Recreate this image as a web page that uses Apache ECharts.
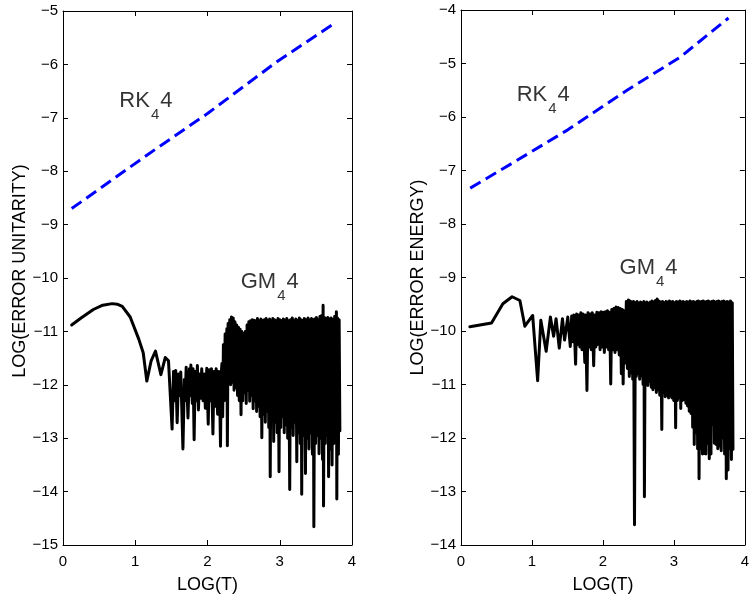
<!DOCTYPE html>
<html><head><meta charset="utf-8">
<script src="https://cdn.jsdelivr.net/npm/echarts@6/dist/echarts.min.js"></script>
<style>html,body{margin:0;padding:0;background:#fff}#c{width:752px;height:599px}</style>
</head><body><div id="c"></div>
<script>
// ---------- data ----------
const xTicks = [0, 1, 2, 3, 4];
const yTicksUnit = [-15, -14, -13, -12, -11, -10, -9, -8, -7, -6, -5];
const yTicksEnergy = [-14, -13, -12, -11, -10, -9, -8, -7, -6, -5, -4];

const rkUnitT   = [0.12, 1.16, 2.0, 2.96, 3.77];
const rkUnitErr = [-8.70, -7.70, -6.92, -5.95, -5.22];

const rkEnergyT   = [0.13, 0.79, 1.48, 2.34, 3.09, 3.77];
const rkEnergyErr = [-7.33, -6.81, -6.26, -5.50, -4.88, -4.15];

const gmUnitT = [0.12,0.25,0.42,0.55,0.68,0.75,0.82,0.93,1.05,1.11,1.16,1.22,1.28,1.355,1.415,
 1.46,1.51,1.53,1.545,1.56,1.58,1.60,1.615,1.63,1.66,1.68,1.69,1.705,1.73,1.75,1.76,1.77,1.79,1.80,1.815,1.83,1.845,
 1.86,1.875,1.89,1.905,1.92,1.94,1.955,1.97,1.99,2.01,2.025,2.04,2.055,2.075,2.09,2.105,2.12,2.14,2.155,2.165,2.18,2.19,
 2.200,2.210,2.220,2.232,2.244,2.256,2.268,2.275,2.285,2.296,2.308,2.320,2.332,2.344,2.356,2.368,2.380,2.392,2.404,2.416,
 2.428,2.440,2.452,2.464,2.476,2.488,2.500,2.512,2.524,2.536,2.548,2.560,2.572,2.584,2.596,2.608,2.620,2.632,2.644,2.656,
 2.668,2.680,2.692,2.704,2.716,2.728,2.740,2.752,2.764,2.776,2.788,2.800,2.812,2.824,2.836,2.848,2.860,2.868,2.880,2.892,
 2.904,2.916,2.928,2.940,2.952,2.964,2.976,2.990,3.002,3.014,3.026,3.038,3.050,3.062,3.074,3.086,3.098,3.110,3.122,3.138,
 3.150,3.162,3.174,3.186,3.198,3.210,3.222,3.236,3.248,3.260,3.272,3.284,3.296,3.304,3.316,3.328,3.340,3.356,3.368,3.380,
 3.392,3.404,3.416,3.428,3.440,3.452,3.464,3.472,3.484,3.496,3.508,3.520,3.532,3.544,3.556,3.568,3.580,3.592,3.600,3.606,
 3.618,3.630,3.642,3.654,3.666,3.676,3.688,3.700,3.712,3.724,3.736,3.748,3.760,3.772,3.784,3.790,3.800,3.812,3.822,3.832];
const gmUnitErr = [-10.88,-10.75,-10.59,-10.51,-10.48,-10.49,-10.53,-10.73,-11.15,-11.40,-11.93,-11.55,-11.37,-11.81,-11.49,
 -11.55,-12.83,-11.75,-12.30,-11.73,-12.71,-11.80,-12.20,-11.76,-13.20,-11.90,-12.30,-11.67,-12.62,-11.70,-12.20,-11.63,-12.35,-11.70,-13.03,-11.75,-12.30,
 -11.64,-12.47,-11.80,-12.25,-11.70,-12.30,-11.80,-12.44,-11.69,-12.74,-11.72,-12.30,-11.70,-12.92,-11.75,-12.40,-11.70,-12.55,-11.75,-11.90,-13.15,-11.80,
 -11.60,-12.60,-11.25,-12.30,-11.05,-12.20,-10.95,-13.14,-10.85,-11.80,-10.78,-12.00,-10.73,-11.95,-10.75,-12.10,-10.82,-12.05,-10.88,-12.20,
 -10.92,-12.30,-10.96,-12.56,-11.00,-12.30,-11.04,-12.15,-11.00,-12.35,-10.88,-12.10,-10.82,-12.31,-10.80,-12.20,-10.78,-12.45,-10.79,-12.30,
 -10.80,-12.50,-10.76,-12.40,-10.80,-12.60,-10.77,-12.99,-10.80,-12.55,-10.78,-12.70,-10.76,-12.50,-10.80,-12.80,-10.77,-13.72,-10.80,-12.60,
 -10.76,-13.06,-10.78,-12.70,-10.80,-12.90,-10.76,-13.63,-10.78,-12.80,-10.80,-12.60,-10.77,-12.90,-10.79,-12.75,-10.76,-13.00,-10.80,-13.96,
 -10.78,-12.80,-10.75,-12.95,-10.80,-12.70,-10.77,-13.44,-10.79,-12.90,-10.75,-13.10,-10.78,-14.05,-10.80,-12.95,-10.76,-13.66,-10.78,-13.00,
 -10.75,-13.20,-10.79,-12.90,-10.76,-13.30,-10.78,-14.66,-10.77,-13.10,-10.74,-12.95,-10.78,-13.29,-10.72,-13.00,-10.70,-13.40,-10.51,-14.27,
 -10.74,-13.10,-10.76,-12.95,-10.74,-13.72,-10.77,-13.20,-10.75,-13.50,-10.78,-13.10,-10.72,-13.00,-10.63,-14.14,-10.75,-13.30,-10.78,-12.86];

const gmEnergyT = [0.125,0.43,0.59,0.72,0.83,0.90,1.01,1.08,1.125,1.20,1.26,1.305,1.34,1.385,1.43,1.46,1.505,1.54,
 1.56,1.575,1.59,1.615,1.63,1.645,1.66,1.675,1.69,1.705,1.72,1.745,1.755,1.775,1.79,1.805,1.82,1.835,1.85,1.87,1.885,1.90,
 1.915,1.93,1.945,1.96,1.975,1.99,2.005,2.02,2.035,2.05,2.065,2.08,2.095,2.11,2.125,2.14,2.155,2.17,2.185,2.20,2.215,2.23,
 2.245,2.26,2.275,2.285,2.30,2.315,2.33,2.345,2.36,2.372,2.384,2.396,2.408,2.42,2.432,2.445,2.458,2.47,2.482,2.494,2.506,
 2.518,2.53,2.542,2.554,2.566,2.578,2.585,2.597,2.609,2.621,2.633,2.645,2.657,2.669,2.681,2.693,2.705,2.717,2.729,2.741,
 2.753,2.765,2.777,2.789,2.801,2.813,2.83,2.842,2.854,2.866,2.878,2.89,2.902,2.914,2.926,2.938,2.95,2.962,2.974,2.986,2.998,
 3.01,3.025,3.037,3.049,3.061,3.073,3.085,3.097,3.109,3.121,3.133,3.145,3.157,3.169,3.181,3.193,3.205,3.217,3.229,3.241,
 3.253,3.265,3.277,3.287,3.299,3.311,3.323,3.335,3.345,3.355,3.367,3.379,3.391,3.403,3.415,3.427,3.439,3.451,3.463,3.475,
 3.487,3.499,3.511,3.523,3.535,3.547,3.559,3.571,3.583,3.595,3.607,3.619,3.631,3.643,3.655,3.667,3.679,3.691,3.703,3.715,
 3.727,3.739,3.751,3.763,3.775,3.787,3.799,3.811,3.823,3.833];
const gmEnergyErr = [-9.92,-9.85,-9.49,-9.36,-9.43,-9.91,-9.71,-10.93,-9.80,-10.38,-9.74,-10.10,-9.77,-10.32,-9.77,-10.17,-9.74,-10.29,
 -9.72,-10.20,-9.70,-10.62,-9.68,-10.25,-9.70,-10.30,-9.66,-10.35,-9.68,-10.59,-9.70,-11.11,-9.66,-10.30,-9.68,-10.35,-9.66,-10.65,-9.70,-10.30,
 -9.65,-10.25,-9.66,-10.35,-9.64,-10.30,-9.65,-10.40,-9.64,-10.30,-9.62,-10.35,-9.65,-10.99,-9.60,-10.35,-9.58,-10.40,-9.55,-10.35,-9.56,-10.45,
 -9.58,-10.80,-9.60,-10.99,-9.62,-10.60,-9.45,-10.70,-9.42,-10.85,-9.44,-10.78,-9.46,-10.90,-9.45,-13.62,-9.47,-10.85,-9.45,-10.80,-9.48,
 -10.90,-9.46,-10.84,-9.47,-11.00,-9.45,-13.10,-9.47,-11.00,-9.46,-11.02,-9.48,-10.95,-9.46,-11.05,-9.44,-11.10,-9.46,-11.05,-9.43,
 -11.15,-9.40,-11.10,-9.44,-11.20,-9.46,-11.84,-9.45,-11.15,-9.47,-11.23,-9.45,-11.20,-9.46,-11.25,-9.44,-11.22,-9.46,-11.25,-9.45,-11.30,
 -9.47,-11.81,-9.45,-11.30,-9.46,-11.25,-9.44,-11.45,-9.46,-11.30,-9.45,-11.28,-9.47,-11.35,-9.45,-11.40,-9.46,-11.50,-9.44,-11.54,
 -9.46,-11.80,-9.45,-12.12,-9.47,-11.90,-9.45,-12.20,-9.44,-12.76,-9.46,-12.20,-9.45,-12.30,-9.44,-12.29,-9.46,-12.30,-9.45,-12.10,
 -9.44,-12.39,-9.46,-12.30,-9.45,-11.75,-9.44,-12.10,-9.46,-12.12,-9.45,-12.20,-9.44,-12.15,-9.46,-12.24,-9.45,-12.00,-9.44,-12.30,
 -9.46,-12.76,-9.45,-12.60,-9.46,-12.20,-9.44,-12.40,-9.47,-12.21];

// annotation anchor positions (data coords: left edge, vertical middle of capitals)
const labelsUnit   = [{t: 0.78, e: -6.69, main: 'RK', sub: '4'}, {t: 2.46, e: -10.07, main: 'GM', sub: '4'}];
const labelsEnergy = [{t: 0.785, e: -5.58, main: 'RK', sub: '4'}, {t: 2.235, e: -8.82, main: 'GM', sub: '4'}];

// ---------- chart ----------
const FONT = "'Liberation Sans', Arial, Helvetica, sans-serif";
const zip = (a, b) => a.map((v, i) => [v, b[i]]);
const minus = v => String(v).replace('-', '\u2212');
const lineBlack = {show: true, onZero: false, lineStyle: {color: '#000', width: 1}};
const tickIn = {show: true, inside: true, length: 5, lineStyle: {color: '#000', width: 1}};

function xAxes(g) {
  return [
    {type: 'value', gridIndex: g, min: xTicks[0], max: xTicks[xTicks.length - 1], interval: 1, position: 'bottom',
     axisLine: lineBlack, axisTick: tickIn, splitLine: {show: false},
     axisLabel: {color: '#000', fontSize: 15, fontFamily: FONT, margin: 9},
     name: 'LOG(T)', nameLocation: 'middle', nameGap: 31,
     nameTextStyle: {color: '#000', fontSize: 18, fontFamily: FONT}},
    {type: 'value', gridIndex: g, min: xTicks[0], max: xTicks[xTicks.length - 1], interval: 1, position: 'top',
     axisLine: lineBlack, axisTick: tickIn, splitLine: {show: false}, axisLabel: {show: false}}
  ];
}
function yAxes(g, ticks, name, gap, pad) {
  return [
    {type: 'value', gridIndex: g, min: ticks[0], max: ticks[ticks.length - 1], interval: 1, position: 'left',
     axisLine: lineBlack, axisTick: tickIn, splitLine: {show: false},
     axisLabel: {color: '#000', fontSize: 15, fontFamily: FONT, margin: 5, formatter: minus},
     name: name, nameLocation: 'middle', nameGap: gap, nameRotate: 90,
     nameTextStyle: {color: '#000', fontSize: 18, fontFamily: FONT, padding: pad}},
    {type: 'value', gridIndex: g, min: ticks[0], max: ticks[ticks.length - 1], interval: 1, position: 'right',
     axisLine: lineBlack, axisTick: tickIn, splitLine: {show: false}, axisLabel: {show: false}}
  ];
}
function annot(list, xi, yi) {
  return {
    type: 'scatter', xAxisIndex: xi, yAxisIndex: yi, symbolSize: 0, silent: true,
    data: list.map(d => ({value: [d.t, d.e], label: {formatter: '{m|' + d.main + '}{s|' + d.sub + '}{m|4}'}})),
    label: {show: true, position: [0, 0], align: 'left', verticalAlign: 'middle', color: '#000',
      rich: {m: {fontSize: 22, fontFamily: FONT, color: '#000'},
             s: {fontSize: 15, fontFamily: FONT, color: '#000', padding: [28, 1, 0, 1]}}}
  };
}

const chart = echarts.init(document.getElementById('c'), null, {renderer: 'canvas'});
chart.setOption({
  animation: false,
  backgroundColor: '#fff',
  grid: [
    {left: 63, top: 11, width: 289, height: 545, show: false},
    {left: 461, top: 10, width: 288, height: 546, show: false}
  ],
  xAxis: [...xAxes(0), ...xAxes(1)],
  yAxis: [...yAxes(0, yTicksUnit, 'LOG(ERROR UNITARITY)', 34, [0, 0, 0, 14]),
          ...yAxes(1, yTicksEnergy, 'LOG(ERROR ENERGY)', 33, [0, 0, 0, 0])],
  series: [
    {type: 'line', xAxisIndex: 0, yAxisIndex: 0, data: zip(rkUnitT, rkUnitErr), showSymbol: false,
     lineStyle: {color: '#0000ff', width: 3, type: [12, 6]}},
    {type: 'line', xAxisIndex: 0, yAxisIndex: 0, data: zip(gmUnitT, gmUnitErr), showSymbol: false,
     lineStyle: {color: '#000', width: 3, join: 'round', cap: 'round'}},
    {type: 'line', xAxisIndex: 2, yAxisIndex: 2, data: zip(rkEnergyT, rkEnergyErr), showSymbol: false,
     lineStyle: {color: '#0000ff', width: 3, type: [12, 6]}},
    {type: 'line', xAxisIndex: 2, yAxisIndex: 2, data: zip(gmEnergyT, gmEnergyErr), showSymbol: false,
     lineStyle: {color: '#000', width: 3, join: 'round', cap: 'round'}},
    annot(labelsUnit, 0, 0),
    annot(labelsEnergy, 2, 2)
  ]
});
</script></body></html>
